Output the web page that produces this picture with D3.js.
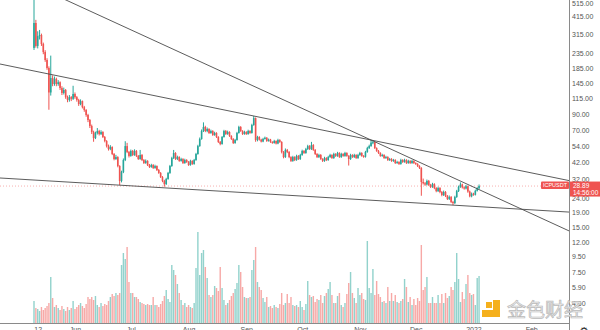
<!DOCTYPE html>
<html>
<head>
<meta charset="utf-8">
<script src="https://cdn.jsdelivr.net/npm/d3@7"></script>
<style>
  html, body { margin: 0; padding: 0; background: #ffffff; }
  svg { display: block; }
</style>
</head>
<body>
<svg id="chart" width="600" height="330"></svg>
<script>
// ICP / USDT daily candles, log price scale, volume overlaid at the bottom
const symbol = "ICPUSDT";
const countdown = "14:56:00";
const firstDay = "2021-05-10";
const lastDay = "2022-01-04";
const firstOpen = 254;

const closes = [
  376, 262, 306, 311, 270, 238, 210, 185, 126, 158,
  144, 156, 144, 148, 135, 125, 131, 117, 112, 117,
  114, 123, 117, 112, 105, 110, 100, 95.6, 88.4, 81.7,
  74.3, 67.6, 61.5, 66.6, 68.7, 65.5, 67.6, 62.5, 58.7, 54.2,
  51.7, 53.4, 47.85, 44.2, 45.6, 39.6, 31.3, 36.0, 43.5, 54.2,
  49.4, 46.4, 50.2, 47.1, 50.2, 46.4, 44.2, 47.1, 43.5, 41.5,
  42.9, 40.2, 39.0, 40.2, 38.4, 39.6, 37.2, 35.5, 33.3, 31.3,
  29.8, 32.3, 35.5, 39.6, 44.9, 48.6, 44.2, 45.6, 42.9, 44.2,
  41.5, 43.5, 42.2, 40.2, 42.9, 40.9, 43.5, 47.85, 54.2, 60.6,
  68.7, 73.2, 68.7, 70.9, 66.6, 68.7, 64.5, 66.6, 62.5, 57.8,
  56.0, 62.5, 68.7, 65.5, 67.6, 63.5, 60.6, 56.9, 59.6, 66.6,
  73.2, 68.7, 65.5, 67.6, 65.5, 68.7, 66.6, 75.5, 84.2, 59.6,
  62.5, 60.0, 58.2, 60.6, 61.8, 58.7, 60.0, 57.8, 56.9, 58.7,
  56.4, 59.6, 57.8, 49.4, 45.6, 51.0, 49.4, 45.6, 42.9, 45.6,
  43.5, 46.4, 44.2, 47.1, 50.2, 48.6, 51.7, 54.2, 51.7, 55.1,
  51.0, 47.85, 45.6, 47.1, 44.2, 42.9, 44.9, 43.5, 45.6, 47.1,
  44.9, 47.85, 46.4, 48.6, 45.6, 47.85, 46.4, 48.6, 46.4, 44.2,
  47.1, 45.6, 47.1, 44.9, 47.1, 48.6, 46.4, 45.8, 49.4, 52.5,
  54.2, 57.2, 57.6, 52.5, 50.2, 48.6, 46.4, 47.1, 44.9, 45.6,
  43.5, 44.2, 42.9, 43.5, 41.5, 42.2, 40.9, 43.5, 42.2, 43.5,
  41.5, 42.9, 41.5, 42.9, 41.5, 40.9, 39.6, 38.4, 30.8, 30.2,
  29.6, 31.3, 29.4, 28.5, 29.8, 28.0, 26.7, 28.0, 26.3, 25.1,
  26.3, 24.7, 23.6, 24.3, 22.5, 22.1, 24.3, 26.7, 28.5, 29.6,
  28.3, 27.8, 28.8, 26.5, 24.6, 25.6, 25.2, 26.8, 27.9, 28.89
];

const highs = [
  640, 395, 330, 337, 318, 276, 245, 216, 190, 225,
  165, 162, 159, 153, 150, 139, 136, 133, 120, 121,
  119, 140, 126, 119, 114, 113, 111, 102, 97, 90,
  83, 76, 69, 68, 72, 70, 69.5, 68.5, 63.5, 59.5,
  55.5, 55, 54, 48.6, 47.2, 46.2, 40.1, 36.8, 44.6, 58.5,
  57.0, 50.2, 51.3, 51.0, 51.5, 50.9, 47.1, 51.0, 47.8, 44.2,
  43.9, 43.4, 40.9, 41.0, 40.8, 40.4, 40.0, 37.8, 36.0, 33.8,
  31.9, 32.9, 36.1, 40.3, 45.8, 51.0, 49.2, 46.6, 46.2, 45.1,
  44.8, 44.4, 44.1, 42.8, 43.7, 43.4, 44.3, 48.7, 55.3, 62.0,
  70.4, 78.7, 74.6, 72.6, 71.8, 70.2, 69.6, 67.9, 67.4, 63.3,
  58.7, 63.5, 70.0, 69.8, 69.1, 68.4, 64.3, 61.4, 60.7, 67.8,
  74.6, 74.2, 69.6, 69.0, 68.5, 70.1, 69.6, 77.0, 87.0, 85.0,
  63.7, 63.3, 60.8, 61.7, 62.9, 62.4, 61.0, 60.7, 58.5, 59.8,
  59.3, 60.8, 60.4, 58.5, 50.1, 52.2, 51.8, 50.1, 46.2, 46.5,
  46.2, 47.3, 47.0, 48.0, 51.2, 50.9, 52.7, 55.3, 55.0, 57.9,
  55.9, 51.7, 48.5, 48.0, 47.8, 44.8, 45.8, 45.5, 46.5, 48.0,
  47.7, 48.8, 48.5, 49.5, 49.2, 48.8, 48.5, 49.5, 49.2, 47.0,
  48.0, 47.7, 48.0, 47.7, 48.0, 49.5, 49.2, 47.0, 50.3, 53.6,
  55.4, 59.6, 59.0, 58.2, 53.1, 50.9, 49.2, 48.0, 47.7, 46.5,
  46.2, 45.0, 44.8, 44.3, 44.1, 43.0, 42.7, 44.4, 44.1, 44.4,
  44.1, 43.7, 43.4, 43.7, 43.4, 42.0, 41.4, 40.1, 38.9, 32.5,
  30.8, 32.0, 31.8, 29.9, 30.4, 30.2, 28.4, 28.6, 28.4, 26.7,
  26.9, 26.7, 25.1, 24.9, 24.7, 22.9, 24.8, 27.2, 29.1, 30.6,
  30.0, 28.8, 29.4, 29.1, 26.9, 26.1, 26.0, 27.3, 28.4, 29.6
];

const lows = [
  246, 255, 252, 290, 262, 230, 204, 180, 96, 120,
  139, 140, 139, 140, 131, 121, 122, 114, 108, 109,
  110, 112, 114, 109, 102, 103, 98, 93, 86, 79,
  72, 65.5, 58, 60.5, 65, 64, 64.5, 61.5, 57.5, 53,
  50.5, 50.8, 47, 43.3, 43.6, 38.8, 29.3, 30.6, 35.4, 42.8,
  48.5, 45.3, 45.8, 46.3, 46.5, 45.6, 43.6, 43.7, 42.8, 40.9,
  41.0, 39.6, 38.4, 38.5, 37.8, 37.9, 36.6, 35.0, 32.8, 30.7,
  28.6, 29.4, 31.9, 35.0, 39.1, 44.2, 43.6, 43.5, 42.3, 42.4,
  40.9, 41.0, 41.6, 39.7, 39.8, 40.3, 40.4, 43.0, 47.3, 53.6,
  59.9, 67.6, 67.5, 67.4, 65.6, 65.7, 63.6, 63.7, 61.6, 56.9,
  54.9, 55.4, 61.9, 64.6, 64.7, 62.6, 59.7, 56.0, 56.2, 59.0,
  65.9, 67.8, 64.6, 64.8, 64.6, 64.8, 65.7, 65.9, 74.6, 58.0,
  58.4, 59.1, 57.4, 57.6, 60.0, 57.9, 58.1, 57.0, 56.2, 56.3,
  55.6, 55.8, 57.0, 48.3, 44.7, 45.0, 48.5, 44.8, 42.2, 42.3,
  42.8, 43.0, 43.6, 43.6, 46.5, 47.9, 48.0, 51.0, 51.0, 51.0,
  50.3, 47.1, 44.9, 44.9, 43.6, 42.2, 42.3, 42.8, 43.0, 45.0,
  44.3, 44.3, 45.7, 45.8, 45.0, 45.0, 45.8, 45.8, 45.8, 39.9,
  43.6, 45.0, 45.0, 44.3, 44.3, 46.5, 45.8, 45.1, 45.2, 48.8,
  51.8, 53.6, 55.8, 51.8, 49.5, 47.9, 45.8, 45.8, 44.3, 44.3,
  42.9, 42.9, 42.3, 42.3, 40.9, 41.0, 40.3, 40.4, 41.6, 41.7,
  40.9, 41.0, 40.9, 41.0, 40.9, 40.3, 39.0, 37.8, 24.8, 29.6,
  29.0, 29.2, 28.9, 28.0, 28.1, 27.5, 26.2, 26.3, 25.8, 24.6,
  24.7, 24.3, 23.2, 23.2, 22.1, 21.4, 21.8, 24.0, 26.3, 28.1,
  27.8, 27.3, 27.4, 26.0, 24.2, 24.2, 24.8, 24.9, 26.5, 27.5
];

// daily volume, millions of ICP
const volumes = [
  2.2, 1.5, 1.4, 1.2, 1.6, 1.3, 1.5, 1.7, 2.0, 4.6,
  2.5, 1.6, 1.8, 1.5, 1.3, 1.7, 1.4, 1.2, 1.6, 1.3,
  1.5, 2.2, 1.4, 1.6, 1.8, 2.0, 1.7, 1.5, 1.9, 2.6,
  2.4, 2.6, 2.3, 2.7, 1.8, 1.6, 2.0, 1.7, 1.9, 1.8,
  2.2, 2.6, 2.9, 2.7, 3.0, 2.8, 3.0, 5.8, 7.0, 6.4,
  7.6, 4.1, 3.0, 3.0, 2.6, 2.6, 2.4, 2.1, 2.0, 1.9,
  1.8, 1.9, 1.8, 1.8, 2.6, 1.8, 1.8, 1.6, 1.9, 2.2,
  2.7, 3.3, 2.4, 2.1, 5.8, 5.3, 4.8, 3.9, 3.0, 2.3,
  1.8, 2.0, 1.6, 1.8, 1.6, 1.5, 2.0, 5.5, 9.1, 4.8,
  7.0, 7.3, 5.6, 4.5, 2.8, 2.6, 2.8, 3.7, 3.5, 3.2,
  5.6, 3.5, 2.3, 1.8, 2.0, 2.3, 2.7, 3.0, 3.4, 4.0,
  5.8, 5.1, 3.6, 2.6, 2.5, 2.5, 2.6, 5.3, 6.3, 7.6,
  4.1, 3.6, 3.3, 2.5, 2.1, 2.6, 1.6, 1.7, 1.5, 1.8,
  1.6, 1.5, 1.9, 3.0, 1.8, 2.0, 2.9, 2.0, 2.6, 1.8,
  1.7, 1.8, 1.6, 2.2, 1.6, 1.3, 1.9, 4.2, 2.8, 2.6,
  2.7, 2.1, 2.4, 2.3, 2.8, 2.0, 2.7, 3.0, 3.4, 4.1,
  2.8, 2.0, 2.0, 2.7, 3.0, 1.8, 1.6, 2.0, 2.9, 4.0,
  5.1, 3.0, 2.5, 2.0, 3.5, 2.8, 3.0, 2.4, 2.3, 8.2,
  3.5, 3.0, 5.4, 2.8, 4.2, 2.9, 2.6, 2.1, 2.2, 2.0,
  3.6, 2.2, 3.0, 2.2, 2.8, 2.1, 2.0, 2.2, 2.4, 4.4,
  3.6, 2.1, 2.6, 1.8, 2.4, 1.8, 2.5, 2.2, 7.8, 3.3,
  3.6, 4.6, 2.0, 2.0, 2.6, 2.0, 2.0, 2.8, 2.0, 2.9,
  2.0, 3.0, 2.5, 2.7, 3.6, 3.3, 4.1, 7.0, 4.4, 2.1,
  3.1, 2.4, 3.9, 4.8, 3.0, 2.8, 2.9, 1.8, 4.5, 4.7
];

const priceTicks = [515, 415, 315, 235, 185, 145, 115, 90, 70, 54, 42, 32, 24, 19, 15, 12, 9.5, 7.5, 5.9, 4.6];
const timeTickDates = ["2021-05-12", "2021-06-01", "2021-07-01", "2021-08-01", "2021-09-01", "2021-10-01", "2021-11-01", "2021-12-01", "2022-01-01", "2022-02-01"];
const timeTickLabels = ["12", "Jun", "Jul", "Aug", "Sep", "Oct", "Nov", "Dec", "2022", "Feb"];

// hand-drawn trend lines, each through two [date, price] anchors
const trendLines = [
  [["2021-09-05", 87.0], ["2021-11-07", 59.6]],
  [["2021-05-10", 680], ["2021-11-07", 59.6]],
  [["2021-06-25", 29.3], ["2021-12-21", 21.4]]
];

// ---- layout ----
const W = 600, H = 330;
const plotRight = 569, plotBottom = 323;
const upColor = "#26a69a", downColor = "#ef5350";

const days = d3.utcDays(new Date(firstDay + "T00:00:00Z"), d3.utcDay.offset(new Date(lastDay + "T00:00:00Z"), 1));
const bars = days.map((d, i) => ({
  date: d,
  open: i === 0 ? firstOpen : closes[i - 1],
  high: highs[i], low: lows[i], close: closes[i], volume: volumes[i]
}));

const x = d3.scaleUtc()
  .domain([new Date("2021-05-10T00:00:00Z"), new Date("2022-02-01T00:00:00Z")])
  .range([34.0, 531.2]);
const y = d3.scaleLog().domain([5.9, 515]).range([287, 3]);
const yVol = d3.scaleLinear().domain([0, 10]).range([plotBottom, plotBottom - 100]);

const svg = d3.select("#chart");
svg.append("rect").attr("width", W).attr("height", H).attr("fill", "#ffffff");

svg.append("defs").append("clipPath").attr("id", "plot")
  .append("rect").attr("x", 0).attr("y", 0).attr("width", plotRight).attr("height", plotBottom);

const plot = svg.append("g").attr("clip-path", "url(#plot)");

// volume histogram
plot.append("g").selectAll("rect").data(bars).join("rect")
  .attr("x", d => x(d.date) - 0.7)
  .attr("width", 1.4)
  .attr("y", d => yVol(d.volume))
  .attr("height", d => plotBottom - yVol(d.volume))
  .attr("fill", d => d.close >= d.open ? upColor : downColor)
  .attr("fill-opacity", 0.5);

// last price line
const lastBar = bars[bars.length - 1];
plot.append("line")
  .attr("x1", 0).attr("x2", plotRight)
  .attr("y1", y(lastBar.close)).attr("y2", y(lastBar.close))
  .attr("stroke", downColor).attr("stroke-opacity", 0.45)
  .attr("stroke-width", 1).attr("stroke-dasharray", "1,2");

// candles
const candles = plot.append("g").selectAll("g").data(bars).join("g");
candles.append("line")
  .attr("x1", d => x(d.date)).attr("x2", d => x(d.date))
  .attr("y1", d => y(d.high)).attr("y2", d => y(d.low))
  .attr("stroke", d => d.close >= d.open ? upColor : downColor)
  .attr("stroke-width", 1);
candles.append("rect")
  .attr("x", d => x(d.date) - 0.8)
  .attr("width", 1.6)
  .attr("y", d => y(Math.max(d.open, d.close)))
  .attr("height", d => Math.max(1, Math.abs(y(d.open) - y(d.close))))
  .attr("fill", d => d.close >= d.open ? upColor : downColor);

// trend lines, extended across the plot
trendLines.forEach(([a, b]) => {
  const x1 = x(new Date(a[0] + "T00:00:00Z")), y1 = y(a[1]);
  const x2 = x(new Date(b[0] + "T00:00:00Z")), y2 = y(b[1]);
  const k = (y2 - y1) / (x2 - x1);
  plot.append("line")
    .attr("x1", 0).attr("y1", y1 + k * (0 - x1))
    .attr("x2", plotRight).attr("y2", y1 + k * (plotRight - x1))
    .attr("stroke", "#4a4a4a").attr("stroke-width", 0.9);
});

// axes frame
svg.append("line").attr("x1", 0).attr("x2", plotRight).attr("y1", plotBottom + 0.5).attr("y2", plotBottom + 0.5)
  .attr("stroke", "#8a8a8a").attr("stroke-width", 1);
svg.append("line").attr("x1", plotRight + 0.5).attr("x2", plotRight + 0.5).attr("y1", 0).attr("y2", H)
  .attr("stroke", "#8a8a8a").attr("stroke-width", 1);

const fontFamily = "'Liberation Sans', Arial, sans-serif";

// price axis
const yAxis = d3.axisRight(y).tickValues(priceTicks).tickSize(0).tickPadding(3)
  .tickFormat(d3.format(".2f"));
const gy = svg.append("g").attr("transform", `translate(${plotRight},0)`).call(yAxis);
gy.select(".domain").remove();
gy.selectAll("text").attr("fill", "#555").attr("font-size", 7).attr("font-family", fontFamily);

// time axis
const xAxis = d3.axisBottom(x)
  .tickValues(timeTickDates.map(s => new Date(s + "T00:00:00Z")))
  .tickSize(0).tickPadding(4)
  .tickFormat((d, i) => timeTickLabels[i]);
const gx = svg.append("g").attr("transform", `translate(0,${plotBottom})`).call(xAxis);
gx.select(".domain").remove();
gx.selectAll("text").attr("fill", "#555").attr("font-size", 7).attr("font-family", fontFamily);

// symbol tag on the last price
const py = y(lastBar.close);
svg.append("rect").attr("x", 541).attr("y", py - 4.5).attr("width", 28).attr("height", 7.5)
  .attr("fill", downColor).attr("rx", 1);
svg.append("text").attr("x", 555).attr("y", py + 1.2).attr("text-anchor", "middle")
  .attr("fill", "#fff").attr("font-size", 5.5).attr("font-family", fontFamily).text(symbol);

// last price badge with countdown
svg.append("rect").attr("x", plotRight + 1).attr("y", py - 4.5).attr("width", W - plotRight - 1).attr("height", 15)
  .attr("fill", downColor);
svg.append("text").attr("x", plotRight + 4).attr("y", py + 2)
  .attr("fill", "#fff").attr("font-size", 6.5).attr("font-family", fontFamily)
  .text(d3.format(".2f")(lastBar.close));
svg.append("text").attr("x", plotRight + 4).attr("y", py + 8.6)
  .attr("fill", "#fff").attr("font-size", 6.5).attr("font-family", fontFamily)
  .text(countdown);

// settings gear in the corner
svg.append("text").attr("x", 584).attr("y", 335).attr("text-anchor", "middle")
  .attr("font-size", 11).attr("fill", "#333").attr("font-family", "'DejaVu Sans', sans-serif").text("\u2699");

// site watermark
const wm = svg.append("g");
wm.append("path")
  .attr("d", "M493,300 h7 v17 h-18 v-7 h11 z M486,302 h6 v6 h-6 z")
  .attr("fill", "#f5b01c");
wm.append("text").attr("x", 507).attr("y", 317)
  .attr("font-size", 19).attr("font-family", "'Noto Sans CJK SC', sans-serif")
  .attr("fill", "#ececec").attr("stroke", "#b9b9b9").attr("stroke-width", 0.7)
  .text("金色财经");
</script>
</body>
</html>
